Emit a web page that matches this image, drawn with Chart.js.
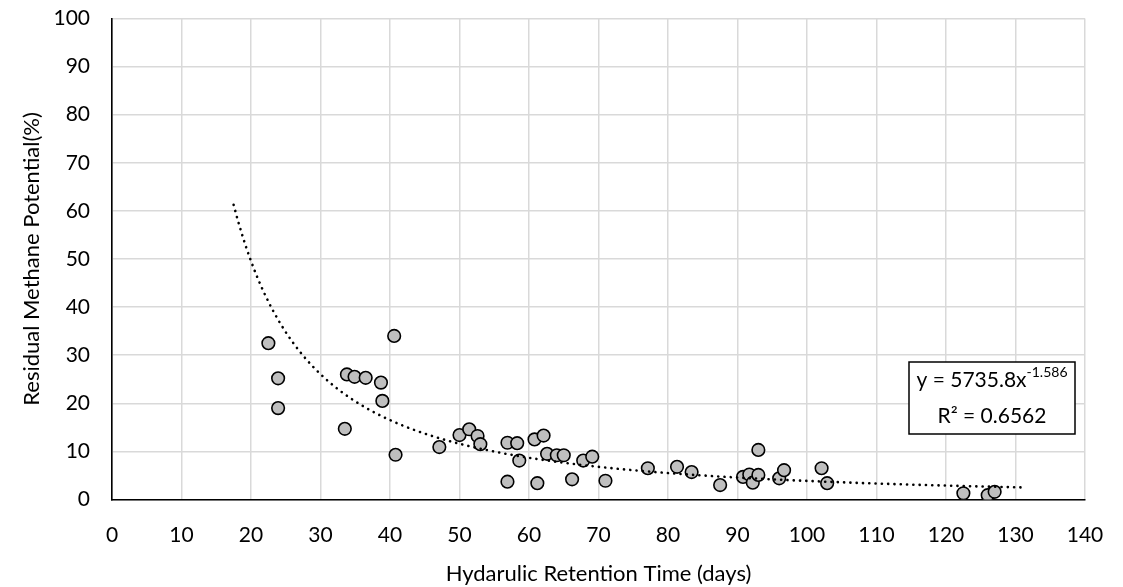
<!DOCTYPE html>
<html>
<head>
<meta charset="utf-8">
<script src="https://cdn.jsdelivr.net/npm/chart.js@4/dist/chart.umd.min.js"></script>
<style>
  html, body { margin: 0; padding: 0; background: #fff; }
  #wrap { width: 1123px; height: 587px; position: relative; }
</style>
</head>
<body>
<div id="wrap"><canvas id="c" width="1123" height="587"></canvas></div>
<script>
// Data
const hrtDays = [22.5, 23.9, 23.9, 33.5, 33.8, 34.9, 36.5, 38.7, 38.9, 40.6, 40.8, 47.1,
  50.0, 51.4, 52.6, 53.0, 56.9, 58.3, 58.6, 56.9, 60.8, 62.1, 61.2, 62.6, 64.0, 65.0,
  66.2, 67.8, 69.1, 71.0, 77.1, 81.3, 83.4, 87.5, 90.8, 91.7, 92.2, 93.0, 93.0, 96.0,
  96.7, 102.1, 102.9, 122.5, 126.0, 127.0];
const residualPct = [32.5, 25.2, 19.0, 14.7, 26.0, 25.5, 25.3, 24.3, 20.5, 34.0, 9.3, 10.9,
  13.4, 14.6, 13.2, 11.5, 11.8, 11.7, 8.1, 3.7, 12.5, 13.3, 3.4, 9.5, 9.2, 9.2,
  4.2, 8.1, 8.9, 3.9, 6.5, 6.8, 5.7, 3.0, 4.7, 5.2, 3.5, 10.3, 5.1, 4.4,
  6.1, 6.5, 3.4, 1.3, 0.9, 1.6];
const xTicks = [0, 10, 20, 30, 40, 50, 60, 70, 80, 90, 100, 110, 120, 130, 140];
const yTicks = [0, 10, 20, 30, 40, 50, 60, 70, 80, 90, 100];
// Power trendline as printed on the chart: y = 5735.8 x^-1.586
const trendCoef = 5735.8;
const trendExp = -1.586;
const trendRange = [17.5, 131.5];
const equationText = ["y = 5735.8x", "-1.586"];
const r2Text = "R² = 0.6562";

const trendPts = [];
for (let i = 0; i <= 200; i++) {
  const x = trendRange[0] + (trendRange[1] - trendRange[0]) * i / 200;
  trendPts.push({ x: x, y: trendCoef * Math.pow(x, trendExp) });
}
const scatterPts = hrtDays.map((x, i) => ({ x: x, y: residualPct[i] }));

const FONT = "Lato, 'Open Sans', sans-serif";

const eqBox = {
  id: 'eqBox',
  afterDatasetsDraw(chart) {
    const ctx = chart.ctx;
    const L = 909, T = 362, W = 166, H = 72;
    ctx.save();
    ctx.fillStyle = '#fff';
    ctx.fillRect(L, T, W, H);
    ctx.strokeStyle = '#000';
    ctx.lineWidth = 1.5;
    ctx.strokeRect(L, T, W, H);
    ctx.fillStyle = '#000';
    ctx.textBaseline = 'alphabetic';
    ctx.font = '21px ' + FONT;
    const w1 = ctx.measureText(equationText[0]).width;
    ctx.font = '14px ' + FONT;
    const w2 = ctx.measureText(equationText[1]).width;
    const start = L + (W - w1 - w2) / 2;
    ctx.font = '21px ' + FONT;
    ctx.textAlign = 'left';
    ctx.fillText(equationText[0], start, T + 25);
    ctx.font = '14px ' + FONT;
    ctx.fillText(equationText[1], start + w1, T + 15);
    ctx.font = '21px ' + FONT;
    ctx.textAlign = 'center';
    ctx.fillText(r2Text, L + W / 2, T + 61);
    ctx.restore();
  }
};

new Chart(document.getElementById('c'), {
  type: 'scatter',
  data: {
    datasets: [
      {
        type: 'line',
        label: 'trend',
        data: trendPts,
        borderColor: '#000',
        borderWidth: 2.6,
        borderDash: [0.1, 6.2],
        borderCapStyle: 'round',
        pointRadius: 0,
        fill: false,
        tension: 0,
        order: 0
      },
      {
        label: 'data',
        data: scatterPts,
        backgroundColor: '#BFBFBF',
        borderColor: '#000',
        borderWidth: 1.6,
        pointRadius: 6.3,
        order: 1
      }
    ]
  },
  options: {
    responsive: false,
    animation: false,
    layout: { padding: { left: 0, right: 38, top: 18.5, bottom: 0 } },
    plugins: { legend: { display: false }, tooltip: { enabled: false } },
    scales: {
      x: {
        type: 'linear',
        min: 0, max: 140,
        afterBuildTicks(s) { s.ticks = xTicks.map(v => ({ value: v })); },
        afterFit(s) { s.height = 87.5; s.paddingLeft = 0; s.paddingRight = 0; },
        grid: { color: '#D9D9D9', lineWidth: 1.5, drawTicks: false },
        border: { color: '#000', width: 1.6 },
        ticks: { color: '#000', font: { family: FONT, size: 21 }, padding: 23 },
        title: { display: true, text: 'Hydarulic Retention Time (days)', color: '#000',
                 font: { family: FONT, size: 22 }, padding: { top: 4, bottom: 0 } }
      },
      y: {
        type: 'linear',
        min: 0, max: 100,
        afterBuildTicks(s) { s.ticks = yTicks.map(v => ({ value: v })); },
        afterFit(s) { s.width = 112; s.paddingTop = 0; s.paddingBottom = 0; },
        grid: { color: '#D9D9D9', lineWidth: 1.5, drawTicks: false },
        border: { color: '#000', width: 1.6 },
        ticks: { color: '#000', font: { family: FONT, size: 21 }, padding: 22 },
        title: { display: true, text: 'Residual Methane Potential(%)', color: '#000',
                 font: { family: FONT, size: 22 }, padding: { top: 19, bottom: 0 } }
      }
    }
  },
  plugins: [eqBox]
});
</script>
</body>
</html>
